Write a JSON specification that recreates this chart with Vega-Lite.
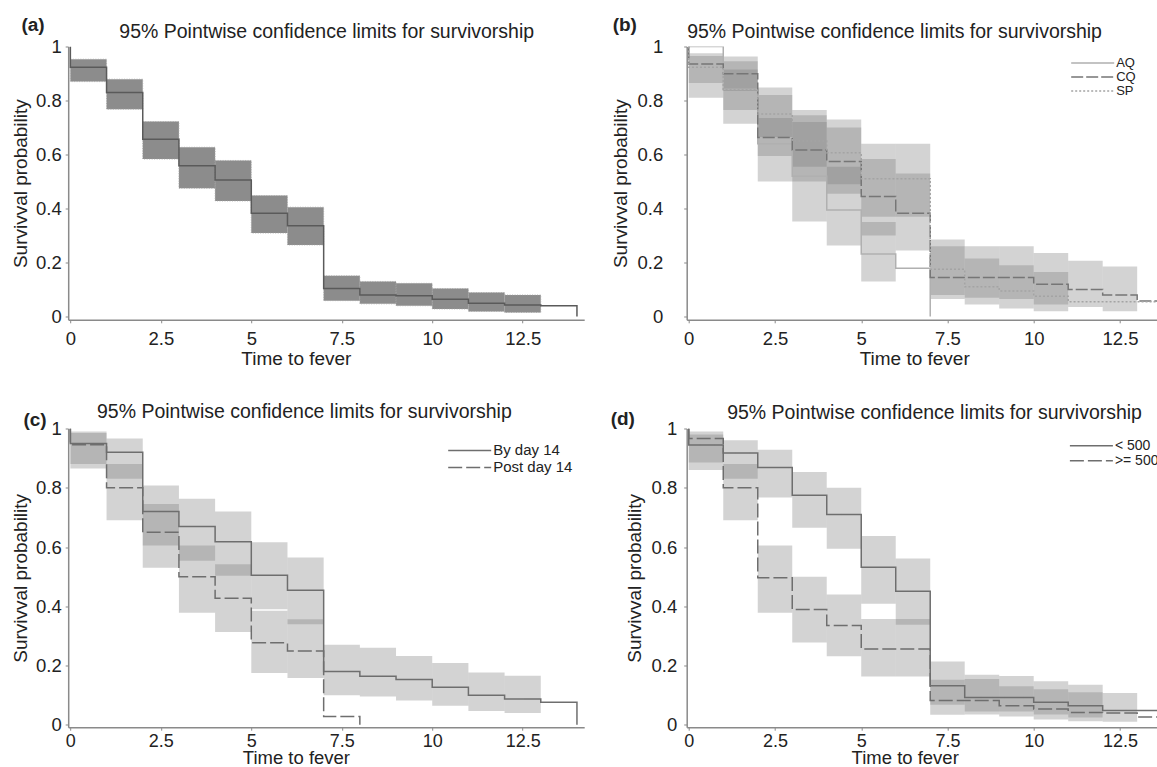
{
"$schema": "https://vega.github.io/schema/vega-lite/v6.json",
"padding": {"left": 11.2, "top": 15.5, "right": 0, "bottom": 0},
"autosize": {"type": "pad"},
"background": "white",
"datasets": {
"bands": [
{"p":"a","g":"all","t0":0,"t1":1,"lo":0.870,"hi":0.953},
{"p":"a","g":"all","t0":1,"t1":2,"lo":0.768,"hi":0.879},
{"p":"a","g":"all","t0":2,"t1":3,"lo":0.583,"hi":0.722},
{"p":"a","g":"all","t0":3,"t1":4,"lo":0.475,"hi":0.627},
{"p":"a","g":"all","t0":4,"t1":5,"lo":0.428,"hi":0.578},
{"p":"a","g":"all","t0":5,"t1":6,"lo":0.309,"hi":0.448},
{"p":"a","g":"all","t0":6,"t1":7,"lo":0.265,"hi":0.405},
{"p":"a","g":"all","t0":7,"t1":8,"lo":0.059,"hi":0.151},
{"p":"a","g":"all","t0":8,"t1":9,"lo":0.047,"hi":0.130},
{"p":"a","g":"all","t0":9,"t1":10,"lo":0.040,"hi":0.123},
{"p":"a","g":"all","t0":10,"t1":11,"lo":0.028,"hi":0.104},
{"p":"a","g":"all","t0":11,"t1":12,"lo":0.019,"hi":0.089},
{"p":"a","g":"all","t0":12,"t1":13,"lo":0.015,"hi":0.080},
{"p":"b","g":"AQ","t0":1,"t1":2,"lo":0.714,"hi":0.963},
{"p":"b","g":"AQ","t0":2,"t1":3,"lo":0.500,"hi":0.848},
{"p":"b","g":"AQ","t0":3,"t1":4,"lo":0.352,"hi":0.765},
{"p":"b","g":"AQ","t0":4,"t1":5,"lo":0.263,"hi":0.555},
{"p":"b","g":"AQ","t0":5,"t1":6,"lo":0.130,"hi":0.350},
{"p":"b","g":"CQ","t0":0,"t1":1,"lo":0.865,"hi":0.975},
{"p":"b","g":"CQ","t0":1,"t1":2,"lo":0.835,"hi":0.945},
{"p":"b","g":"CQ","t0":2,"t1":3,"lo":0.595,"hi":0.735},
{"p":"b","g":"CQ","t0":3,"t1":4,"lo":0.500,"hi":0.720},
{"p":"b","g":"CQ","t0":4,"t1":5,"lo":0.455,"hi":0.700},
{"p":"b","g":"CQ","t0":5,"t1":6,"lo":0.300,"hi":0.583},
{"p":"b","g":"CQ","t0":6,"t1":7,"lo":0.245,"hi":0.530},
{"p":"b","g":"CQ","t0":7,"t1":8,"lo":0.080,"hi":0.260},
{"p":"b","g":"CQ","t0":8,"t1":9,"lo":0.070,"hi":0.260},
{"p":"b","g":"CQ","t0":9,"t1":10,"lo":0.065,"hi":0.260},
{"p":"b","g":"CQ","t0":10,"t1":11,"lo":0.045,"hi":0.235},
{"p":"b","g":"CQ","t0":11,"t1":12,"lo":0.035,"hi":0.207},
{"p":"b","g":"CQ","t0":12,"t1":13,"lo":0.020,"hi":0.185},
{"p":"b","g":"SP","t0":0,"t1":1,"lo":0.810,"hi":0.965},
{"p":"b","g":"SP","t0":1,"t1":2,"lo":0.765,"hi":0.915},
{"p":"b","g":"SP","t0":2,"t1":3,"lo":0.665,"hi":0.820},
{"p":"b","g":"SP","t0":3,"t1":4,"lo":0.555,"hi":0.745},
{"p":"b","g":"SP","t0":4,"t1":5,"lo":0.490,"hi":0.730},
{"p":"b","g":"SP","t0":5,"t1":6,"lo":0.370,"hi":0.640},
{"p":"b","g":"SP","t0":6,"t1":7,"lo":0.370,"hi":0.640},
{"p":"b","g":"SP","t0":7,"t1":8,"lo":0.065,"hi":0.285},
{"p":"b","g":"SP","t0":8,"t1":9,"lo":0.045,"hi":0.215},
{"p":"b","g":"SP","t0":9,"t1":10,"lo":0.030,"hi":0.190},
{"p":"b","g":"SP","t0":10,"t1":11,"lo":0.020,"hi":0.165},
{"p":"c","g":"By day 14","t0":0,"t1":1,"lo":0.865,"hi":0.985},
{"p":"c","g":"By day 14","t0":1,"t1":2,"lo":0.830,"hi":0.966},
{"p":"c","g":"By day 14","t0":2,"t1":3,"lo":0.605,"hi":0.808},
{"p":"c","g":"By day 14","t0":3,"t1":4,"lo":0.554,"hi":0.763},
{"p":"c","g":"By day 14","t0":4,"t1":5,"lo":0.503,"hi":0.720},
{"p":"c","g":"By day 14","t0":5,"t1":6,"lo":0.390,"hi":0.616},
{"p":"c","g":"By day 14","t0":6,"t1":7,"lo":0.339,"hi":0.565},
{"p":"c","g":"By day 14","t0":7,"t1":8,"lo":0.100,"hi":0.270},
{"p":"c","g":"By day 14","t0":8,"t1":9,"lo":0.096,"hi":0.260},
{"p":"c","g":"By day 14","t0":9,"t1":10,"lo":0.082,"hi":0.232},
{"p":"c","g":"By day 14","t0":10,"t1":11,"lo":0.064,"hi":0.209},
{"p":"c","g":"By day 14","t0":11,"t1":12,"lo":0.047,"hi":0.177},
{"p":"c","g":"By day 14","t0":12,"t1":13,"lo":0.040,"hi":0.166},
{"p":"c","g":"Post day 14","t0":0,"t1":1,"lo":0.880,"hi":0.990},
{"p":"c","g":"Post day 14","t0":1,"t1":2,"lo":0.690,"hi":0.880},
{"p":"c","g":"Post day 14","t0":2,"t1":3,"lo":0.530,"hi":0.745},
{"p":"c","g":"Post day 14","t0":3,"t1":4,"lo":0.378,"hi":0.605},
{"p":"c","g":"Post day 14","t0":4,"t1":5,"lo":0.313,"hi":0.542},
{"p":"c","g":"Post day 14","t0":5,"t1":6,"lo":0.175,"hi":0.385},
{"p":"c","g":"Post day 14","t0":6,"t1":7,"lo":0.158,"hi":0.356},
{"p":"d","g":"< 500","t0":0,"t1":1,"lo":0.860,"hi":0.980},
{"p":"d","g":"< 500","t0":1,"t1":2,"lo":0.830,"hi":0.960},
{"p":"d","g":"< 500","t0":2,"t1":3,"lo":0.767,"hi":0.928},
{"p":"d","g":"< 500","t0":3,"t1":4,"lo":0.665,"hi":0.853},
{"p":"d","g":"< 500","t0":4,"t1":5,"lo":0.594,"hi":0.800},
{"p":"d","g":"< 500","t0":5,"t1":6,"lo":0.409,"hi":0.637},
{"p":"d","g":"< 500","t0":6,"t1":7,"lo":0.338,"hi":0.561},
{"p":"d","g":"< 500","t0":7,"t1":8,"lo":0.068,"hi":0.214},
{"p":"d","g":"< 500","t0":8,"t1":9,"lo":0.045,"hi":0.169},
{"p":"d","g":"< 500","t0":9,"t1":10,"lo":0.045,"hi":0.165},
{"p":"d","g":"< 500","t0":10,"t1":11,"lo":0.035,"hi":0.147},
{"p":"d","g":"< 500","t0":11,"t1":12,"lo":0.025,"hi":0.135},
{"p":"d","g":"< 500","t0":12,"t1":13,"lo":0.010,"hi":0.107},
{"p":"d","g":">= 500","t0":0,"t1":1,"lo":0.885,"hi":0.990},
{"p":"d","g":">= 500","t0":1,"t1":2,"lo":0.690,"hi":0.880},
{"p":"d","g":">= 500","t0":2,"t1":3,"lo":0.378,"hi":0.605},
{"p":"d","g":">= 500","t0":3,"t1":4,"lo":0.278,"hi":0.500},
{"p":"d","g":">= 500","t0":4,"t1":5,"lo":0.231,"hi":0.440},
{"p":"d","g":">= 500","t0":5,"t1":6,"lo":0.163,"hi":0.357},
{"p":"d","g":">= 500","t0":6,"t1":7,"lo":0.163,"hi":0.357},
{"p":"d","g":">= 500","t0":7,"t1":8,"lo":0.034,"hi":0.152},
{"p":"d","g":">= 500","t0":8,"t1":9,"lo":0.035,"hi":0.155},
{"p":"d","g":">= 500","t0":9,"t1":10,"lo":0.028,"hi":0.130},
{"p":"d","g":">= 500","t0":10,"t1":11,"lo":0.018,"hi":0.120},
{"p":"d","g":">= 500","t0":11,"t1":12,"lo":0.012,"hi":0.110}
],
"curves": [
{"p":"a","g":"all","t":0,"s":1},{"p":"a","g":"all","t":0,"s":0.923},{"p":"a","g":"all","t":1,"s":0.830},{"p":"a","g":"all","t":2,"s":0.657},{"p":"a","g":"all","t":3,"s":0.558},{"p":"a","g":"all","t":4,"s":0.506},{"p":"a","g":"all","t":5,"s":0.383},{"p":"a","g":"all","t":6,"s":0.336},{"p":"a","g":"all","t":7,"s":0.104},{"p":"a","g":"all","t":8,"s":0.080},{"p":"a","g":"all","t":9,"s":0.077},{"p":"a","g":"all","t":10,"s":0.064},{"p":"a","g":"all","t":11,"s":0.049},{"p":"a","g":"all","t":12,"s":0.043},{"p":"a","g":"all","t":13,"s":0.040},{"p":"a","g":"all","t":14,"s":0},
{"p":"b","g":"AQ","t":0,"s":1},{"p":"b","g":"AQ","t":1,"s":0.842},{"p":"b","g":"AQ","t":2,"s":0.640},{"p":"b","g":"AQ","t":3,"s":0.520},{"p":"b","g":"AQ","t":4,"s":0.395},{"p":"b","g":"AQ","t":5,"s":0.232},{"p":"b","g":"AQ","t":6,"s":0.179},{"p":"b","g":"AQ","t":7,"s":0},
{"p":"b","g":"CQ","t":0,"s":1},{"p":"b","g":"CQ","t":0,"s":0.935},{"p":"b","g":"CQ","t":1,"s":0.899},{"p":"b","g":"CQ","t":2,"s":0.663},{"p":"b","g":"CQ","t":3,"s":0.617},{"p":"b","g":"CQ","t":4,"s":0.574},{"p":"b","g":"CQ","t":5,"s":0.445},{"p":"b","g":"CQ","t":6,"s":0.383},{"p":"b","g":"CQ","t":7,"s":0.145},{"p":"b","g":"CQ","t":8,"s":0.145},{"p":"b","g":"CQ","t":9,"s":0.145},{"p":"b","g":"CQ","t":10,"s":0.120},{"p":"b","g":"CQ","t":11,"s":0.100},{"p":"b","g":"CQ","t":12,"s":0.080},{"p":"b","g":"CQ","t":13,"s":0.058},{"p":"b","g":"CQ","t":14,"s":0.058},
{"p":"b","g":"SP","t":0,"s":1},{"p":"b","g":"SP","t":0,"s":0.923},{"p":"b","g":"SP","t":1,"s":0.840},{"p":"b","g":"SP","t":2,"s":0.750},{"p":"b","g":"SP","t":3,"s":0.650},{"p":"b","g":"SP","t":4,"s":0.607},{"p":"b","g":"SP","t":5,"s":0.510},{"p":"b","g":"SP","t":6,"s":0.510},{"p":"b","g":"SP","t":7,"s":0.175},{"p":"b","g":"SP","t":8,"s":0.110},{"p":"b","g":"SP","t":9,"s":0.095},{"p":"b","g":"SP","t":10,"s":0.075},{"p":"b","g":"SP","t":11,"s":0.055},{"p":"b","g":"SP","t":12,"s":0.055},{"p":"b","g":"SP","t":13,"s":0.055},{"p":"b","g":"SP","t":14,"s":0.055},
{"p":"c","g":"By day 14","t":0,"s":1},{"p":"c","g":"By day 14","t":0,"s":0.949},{"p":"c","g":"By day 14","t":1,"s":0.920},{"p":"c","g":"By day 14","t":2,"s":0.720},{"p":"c","g":"By day 14","t":3,"s":0.669},{"p":"c","g":"By day 14","t":4,"s":0.618},{"p":"c","g":"By day 14","t":5,"s":0.505},{"p":"c","g":"By day 14","t":6,"s":0.454},{"p":"c","g":"By day 14","t":7,"s":0.180},{"p":"c","g":"By day 14","t":8,"s":0.164},{"p":"c","g":"By day 14","t":9,"s":0.153},{"p":"c","g":"By day 14","t":10,"s":0.127},{"p":"c","g":"By day 14","t":11,"s":0.100},{"p":"c","g":"By day 14","t":12,"s":0.087},{"p":"c","g":"By day 14","t":13,"s":0.076},{"p":"c","g":"By day 14","t":14,"s":0},
{"p":"c","g":"Post day 14","t":0,"s":1},{"p":"c","g":"Post day 14","t":0,"s":0.945},{"p":"c","g":"Post day 14","t":1,"s":0.800},{"p":"c","g":"Post day 14","t":2,"s":0.650},{"p":"c","g":"Post day 14","t":3,"s":0.500},{"p":"c","g":"Post day 14","t":4,"s":0.427},{"p":"c","g":"Post day 14","t":5,"s":0.277},{"p":"c","g":"Post day 14","t":6,"s":0.249},{"p":"c","g":"Post day 14","t":7,"s":0.028},{"p":"c","g":"Post day 14","t":8,"s":0},
{"p":"d","g":"< 500","t":0,"s":1},{"p":"d","g":"< 500","t":0,"s":0.944},{"p":"d","g":"< 500","t":1,"s":0.917},{"p":"d","g":"< 500","t":2,"s":0.868},{"p":"d","g":"< 500","t":3,"s":0.775},{"p":"d","g":"< 500","t":4,"s":0.710},{"p":"d","g":"< 500","t":5,"s":0.532},{"p":"d","g":"< 500","t":6,"s":0.451},{"p":"d","g":"< 500","t":7,"s":0.132},{"p":"d","g":"< 500","t":8,"s":0.092},{"p":"d","g":"< 500","t":9,"s":0.092},{"p":"d","g":"< 500","t":10,"s":0.076},{"p":"d","g":"< 500","t":11,"s":0.064},{"p":"d","g":"< 500","t":12,"s":0.048},{"p":"d","g":"< 500","t":14,"s":0.048},
{"p":"d","g":">= 500","t":0,"s":1},{"p":"d","g":">= 500","t":0,"s":0.966},{"p":"d","g":">= 500","t":1,"s":0.800},{"p":"d","g":">= 500","t":2,"s":0.496},{"p":"d","g":">= 500","t":3,"s":0.389},{"p":"d","g":">= 500","t":4,"s":0.335},{"p":"d","g":">= 500","t":5,"s":0.256},{"p":"d","g":">= 500","t":6,"s":0.256},{"p":"d","g":">= 500","t":7,"s":0.082},{"p":"d","g":">= 500","t":8,"s":0.082},{"p":"d","g":">= 500","t":9,"s":0.064},{"p":"d","g":">= 500","t":10,"s":0.053},{"p":"d","g":">= 500","t":11,"s":0.042},{"p":"d","g":">= 500","t":12,"s":0.040},{"p":"d","g":">= 500","t":13,"s":0.026},{"p":"d","g":">= 500","t":14,"s":0.026}
]
},
"columns": 2,
"spacing": {"row": 108, "column": 102.5},
"bounds": "flush",
"align": "each",
"resolve": {"scale": {"color": "independent", "strokeDash": "independent"}, "legend": {"color": "independent", "strokeDash": "independent"}},
"concat": [
{
"width": 516, "height": 273.3,
"layer": [
{"data": {"name": "bands"}, "transform": [{"filter": "datum.p === 'a'"}],
"mark": {"type": "rect", "fill": "#8c8c8c", "stroke": "#a6a6a6", "strokeWidth": 0.8, "strokeDash": [1, 1.5]},
"encoding": {
"x": {"field": "t0", "type": "quantitative", "scale": {"domain": [-0.06, 14.2], "nice": false, "zero": false},
"axis": {"orient": "bottom", "values": [0, 2.5, 5, 7.5, 10, 12.5], "format": ".3~f", "labelPadding": 7, "title": "Time to fever", "titleX": 227.7, "titleY": 45, "titleBaseline": "alphabetic", "titleAlign": "center"}},
"x2": {"field": "t1"},
"y": {"field": "lo", "type": "quantitative", "scale": {"domain": [-0.012, 1], "nice": false, "zero": false},
"axis": {"orient": "left", "values": [0, 0.2, 0.4, 0.6, 0.8, 1], "format": ".3~f", "labelPadding": 4, "title": "Survivval probability", "titleX": -47.3, "titleBaseline": "middle"}},
"y2": {"field": "hi"}
}},
{"data": {"name": "curves"}, "transform": [{"filter": "datum.p === 'a'"}],
"mark": {"type": "line", "interpolate": "step-after", "color": "#5a5a5a", "strokeWidth": 1.5, "clip": true},
"encoding": {
"x": {"field": "t", "type": "quantitative", "scale": {"domain": [-0.06, 14.2], "nice": false, "zero": false},
"axis": {"orient": "top", "domain": false, "ticks": false, "labels": false, "title": "95% Pointwise confidence limits for survivorship", "titleX": 258, "titleY": -15, "titleAlign": "center", "titleBaseline": "middle", "titleFontSize": 19.5}},
"y": {"field": "s", "type": "quantitative", "scale": {"domain": [-0.012, 1], "nice": false, "zero": false},
"axis": {"orient": "right", "domain": false, "ticks": false, "labels": false, "title": "(a)", "titleAngle": 0, "titleX": -563.3, "titleY": -21.7, "titleAlign": "left", "titleBaseline": "middle", "titleFontWeight": "bold"}},
"order": [{"field": "t", "type": "quantitative", "sort": "ascending"}, {"field": "s", "type": "quantitative", "sort": "descending"}]
}}
],
"resolve": {"axis": {"x": "independent", "y": "independent"}}
},
{
"width": 470.5, "height": 273.3,
"layer": [
{"data": {"name": "bands"}, "transform": [{"filter": "datum.p === 'b'"}],
"mark": {"type": "rect", "fill": "#7a7a7a", "opacity": 0.33},
"encoding": {
"x": {"field": "t0", "type": "quantitative", "scale": {"domain": [-0.06, 13.58], "nice": false, "zero": false},
"axis": {"orient": "bottom", "values": [0, 2.5, 5, 7.5, 10, 12.5], "format": ".3~f", "labelPadding": 7, "title": "Time to fever", "titleX": 227.5, "titleY": 45, "titleBaseline": "alphabetic", "titleAlign": "center"}},
"x2": {"field": "t1"},
"y": {"field": "lo", "type": "quantitative", "scale": {"domain": [-0.012, 1], "nice": false, "zero": false},
"axis": {"orient": "left", "values": [0, 0.2, 0.4, 0.6, 0.8, 1], "format": ".3~f", "labelPadding": 21, "title": "Survivval probability", "titleX": -66, "titleBaseline": "middle"}},
"y2": {"field": "hi"}
}},
{"data": {"name": "curves"}, "transform": [{"filter": "datum.p === 'b'"}],
"mark": {"type": "line", "interpolate": "step-after", "strokeWidth": 1.5, "clip": true},
"encoding": {
"x": {"field": "t", "type": "quantitative", "scale": {"domain": [-0.06, 13.58], "nice": false, "zero": false},
"axis": {"orient": "top", "domain": false, "ticks": false, "labels": false, "title": "95% Pointwise confidence limits for survivorship", "titleX": 0, "titleY": -15, "titleAlign": "left", "titleBaseline": "middle", "titleFontSize": 19.5}},
"y": {"field": "s", "type": "quantitative", "scale": {"domain": [-0.012, 1], "nice": false, "zero": false},
"axis": {"orient": "right", "domain": false, "ticks": false, "labels": false, "title": "(b)", "titleAngle": 0, "titleX": -545, "titleY": -21.7, "titleAlign": "left", "titleBaseline": "middle", "titleFontWeight": "bold"}},
"order": [{"field": "t", "type": "quantitative", "sort": "ascending"}, {"field": "s", "type": "quantitative", "sort": "descending"}],
"color": {"field": "g", "type": "nominal", "scale": {"domain": ["AQ", "CQ", "SP"], "range": ["#b0b0b0", "#767676", "#a4a4a4"]},
"legend": {"orient": "none", "legendX": 383.5, "legendY": 9.6, "title": null, "symbolType": "stroke", "symbolSize": 1849, "symbolStrokeWidth": 1.5, "labelFontSize": 13, "labelColor": "#222", "labelOffset": 1, "clipHeight": 14, "rowPadding": 0, "padding": 0}},
"strokeDash": {"field": "g", "type": "nominal", "scale": {"domain": ["AQ", "CQ", "SP"], "range": [[1, 0], [12, 3], [2, 2]]},
"legend": {"orient": "none", "legendX": 383.5, "legendY": 9.6, "title": null, "symbolType": "stroke", "symbolSize": 1849, "symbolStrokeWidth": 1.5, "labelFontSize": 13, "labelColor": "#222", "labelOffset": 1, "clipHeight": 14, "rowPadding": 0, "padding": 0}}
}}
],
"resolve": {"axis": {"x": "independent", "y": "independent"}}
},
{
"width": 516, "height": 298.7,
"layer": [
{"data": {"name": "bands"}, "transform": [{"filter": "datum.p === 'c'"}],
"mark": {"type": "rect", "fill": "#7a7a7a", "opacity": 0.33},
"encoding": {
"x": {"field": "t0", "type": "quantitative", "scale": {"domain": [-0.06, 14.2], "nice": false, "zero": false},
"axis": {"orient": "bottom", "values": [0, 2.5, 5, 7.5, 10, 12.5], "format": ".3~f", "labelPadding": 2.5, "labelFontSize": 18, "title": "Time to fever", "titleFontSize": 18.5, "titleX": 227.7, "titleY": 36, "titleBaseline": "alphabetic", "titleAlign": "center"}},
"x2": {"field": "t1"},
"y": {"field": "lo", "type": "quantitative", "scale": {"domain": [-0.008, 1], "nice": false, "zero": false},
"axis": {"orient": "left", "values": [0, 0.2, 0.4, 0.6, 0.8, 1], "format": ".3~f", "labelPadding": 4, "title": "Survivval probability", "titleX": -47.3, "titleBaseline": "middle"}},
"y2": {"field": "hi"}
}},
{"data": {"name": "curves"}, "transform": [{"filter": "datum.p === 'c'"}],
"mark": {"type": "line", "interpolate": "step-after", "strokeWidth": 1.5, "clip": true},
"encoding": {
"x": {"field": "t", "type": "quantitative", "scale": {"domain": [-0.06, 14.2], "nice": false, "zero": false},
"axis": {"orient": "top", "domain": false, "ticks": false, "labels": false, "title": "95% Pointwise confidence limits for survivorship", "titleX": 28.3, "titleY": -17.3, "titleAlign": "left", "titleBaseline": "middle", "titleFontSize": 19.5}},
"y": {"field": "s", "type": "quantitative", "scale": {"domain": [-0.008, 1], "nice": false, "zero": false},
"axis": {"orient": "right", "domain": false, "ticks": false, "labels": false, "title": "(c)", "titleAngle": 0, "titleX": -561.3, "titleY": -9, "titleAlign": "left", "titleBaseline": "middle", "titleFontWeight": "bold"}},
"order": [{"field": "t", "type": "quantitative", "sort": "ascending"}, {"field": "s", "type": "quantitative", "sort": "descending"}],
"color": {"field": "g", "type": "nominal", "scale": {"domain": ["By day 14", "Post day 14"], "range": ["#6e6e6e", "#6e6e6e"]},
"legend": {"orient": "none", "legendX": 379, "legendY": 13.5, "title": null, "symbolType": "stroke", "symbolSize": 1849, "symbolStrokeWidth": 1.5, "labelFontSize": 15, "labelColor": "#222", "labelOffset": 1, "clipHeight": 17, "rowPadding": 0, "padding": 0}},
"strokeDash": {"field": "g", "type": "nominal", "scale": {"domain": ["By day 14", "Post day 14"], "range": [[1, 0], [14, 4]]},
"legend": {"orient": "none", "legendX": 379, "legendY": 13.5, "title": null, "symbolType": "stroke", "symbolSize": 1849, "symbolStrokeWidth": 1.5, "labelFontSize": 15, "labelColor": "#222", "labelOffset": 1, "clipHeight": 17, "rowPadding": 0, "padding": 0}}
}}
],
"resolve": {"axis": {"x": "independent", "y": "independent"}}
},
{
"width": 470.5, "height": 298.7,
"layer": [
{"data": {"name": "bands"}, "transform": [{"filter": "datum.p === 'd'"}],
"mark": {"type": "rect", "fill": "#7a7a7a", "opacity": 0.33},
"encoding": {
"x": {"field": "t0", "type": "quantitative", "scale": {"domain": [-0.06, 13.58], "nice": false, "zero": false},
"axis": {"orient": "bottom", "values": [0, 2.5, 5, 7.5, 10, 12.5], "format": ".3~f", "labelPadding": 2.5, "labelFontSize": 18, "title": "Time to fever", "titleFontSize": 18.5, "titleX": 218, "titleY": 36, "titleBaseline": "alphabetic", "titleAlign": "center"}},
"x2": {"field": "t1"},
"y": {"field": "lo", "type": "quantitative", "scale": {"domain": [-0.008, 1], "nice": false, "zero": false},
"axis": {"orient": "left", "values": [0, 0.2, 0.4, 0.6, 0.8, 1], "format": ".3~f", "labelPadding": 7, "title": "Survivval probability", "titleX": -52, "titleBaseline": "middle"}},
"y2": {"field": "hi"}
}},
{"data": {"name": "curves"}, "transform": [{"filter": "datum.p === 'd'"}],
"mark": {"type": "line", "interpolate": "step-after", "strokeWidth": 1.5, "clip": true},
"encoding": {
"x": {"field": "t", "type": "quantitative", "scale": {"domain": [-0.06, 13.58], "nice": false, "zero": false},
"axis": {"orient": "top", "domain": false, "ticks": false, "labels": false, "title": "95% Pointwise confidence limits for survivorship", "titleX": 40, "titleY": -16.3, "titleAlign": "left", "titleBaseline": "middle", "titleFontSize": 19.5}},
"y": {"field": "s", "type": "quantitative", "scale": {"domain": [-0.008, 1], "nice": false, "zero": false},
"axis": {"orient": "right", "domain": false, "ticks": false, "labels": false, "title": "(d)", "titleAngle": 0, "titleX": -547, "titleY": -10, "titleAlign": "left", "titleBaseline": "middle", "titleFontWeight": "bold"}},
"order": [{"field": "t", "type": "quantitative", "sort": "ascending"}, {"field": "s", "type": "quantitative", "sort": "descending"}],
"color": {"field": "g", "type": "nominal", "scale": {"domain": ["< 500", ">= 500"], "range": ["#6e6e6e", "#6e6e6e"]},
"legend": {"orient": "none", "legendX": 382.2, "legendY": 10, "title": null, "symbolType": "stroke", "symbolSize": 1849, "symbolStrokeWidth": 1.5, "labelFontSize": 14, "labelColor": "#222", "labelOffset": 1, "clipHeight": 14.3, "rowPadding": 0, "padding": 0}},
"strokeDash": {"field": "g", "type": "nominal", "scale": {"domain": ["< 500", ">= 500"], "range": [[1, 0], [14, 4]]},
"legend": {"orient": "none", "legendX": 382.2, "legendY": 10, "title": null, "symbolType": "stroke", "symbolSize": 1849, "symbolStrokeWidth": 1.5, "labelFontSize": 14, "labelColor": "#222", "labelOffset": 1, "clipHeight": 14.3, "rowPadding": 0, "padding": 0}}
}}
],
"resolve": {"axis": {"x": "independent", "y": "independent"}}
}
],
"config": {
"font": "Liberation Sans",
"view": {"stroke": null},
"axis": {"grid": false, "domainColor": "#8a8a8a", "domainWidth": 1.5, "tickColor": "#8a8a8a", "tickWidth": 1, "tickSize": 3, "labelFont": "Liberation Sans", "labelFontSize": 18.5, "labelColor": "#222", "titleFont": "Liberation Sans", "titleFontSize": 19, "titleFontWeight": "normal", "titleColor": "#222"},
"legend": {"labelFont": "Liberation Sans"}
}
}
